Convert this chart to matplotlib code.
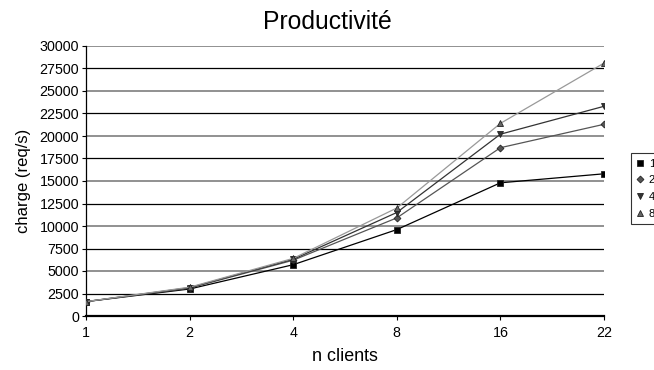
import matplotlib
matplotlib.use("Agg")
import matplotlib.pyplot as plt
import numpy as np

plt.rcParams['font.family'] = ['Liberation Sans', 'DejaVu Sans']

clients = ["1", "2", "4", "8", "16", "22"]
serie_1 = [1600, 3000, 5700, 9600, 14800, 15800]
serie_2 = [1600, 3100, 6200, 10900, 18700, 21300]
serie_4 = [1600, 3150, 6300, 11500, 20200, 23300]
serie_8 = [1600, 3200, 6400, 12000, 21400, 28100]
legend_labels = ["1", "2", "4", "8"]
yticks = list(range(0, 30001, 2500))

fig = plt.figure(figsize=(6.54, 3.70), dpi=100)
ax = fig.add_axes([86/654, 1-316/370, (604-86)/654, (316-46)/370])

x = np.arange(len(clients))

# horizontal grid: grey every 5000, black in between
for v in yticks[1:]:
    if v % 5000 == 0:
        ax.axhline(v, color="#888888", lw=1.3, zorder=1)
    else:
        ax.axhline(v, color="black", lw=0.9, zorder=1)

styles = [
    (serie_1, "s", "black", "black", 5),
    (serie_2, "D", "#555555", "#555555", 3.5),
    (serie_4, "v", "#333333", "#333333", 5),
    (serie_8, "^", "#999999", "#666666", 5),
]
handles = []
for (vals, m, lc, mc, ms), lab in zip(styles, legend_labels):
    h, = ax.plot(x, vals, color=lc, lw=0.9, marker=m, markersize=ms,
                 markerfacecolor=mc, markeredgecolor="#222222",
                 markeredgewidth=0.6, zorder=3, label=lab)
    handles.append(h)

ax.set_xlim(0, len(clients) - 1)
ax.set_ylim(0, 30000)
ax.set_xticks(x)
ax.set_xticklabels(clients)
ax.set_yticks(yticks)
ax.set_yticklabels([str(v) for v in yticks])
ax.tick_params(axis="both", labelsize=10.3, length=3, width=0.8, direction="out",
               colors="black")
ax.tick_params(axis="x", pad=4)
ax.tick_params(axis="y", pad=2)

for s in ["top", "right"]:
    ax.spines[s].set_visible(False)
ax.spines["left"].set_linewidth(0.9)
ax.spines["bottom"].set_linewidth(1.6)

ax.set_xlabel("n clients", fontsize=12.9, labelpad=6)
ax.set_ylabel("charge (req/s)", fontsize=12, labelpad=6)
fig.text(0.5, 1-22/370, "Productivité", ha="center", va="center", fontsize=17.8)

leg = fig.legend(handles=handles, labels=legend_labels, loc="upper left",
                 bbox_to_anchor=(631/654, 1-153/370), frameon=True,
                 fontsize=8, handlelength=0.6, handletextpad=0.5,
                 borderpad=0.5, labelspacing=0.6, fancybox=False,
                 borderaxespad=0)
leg.get_frame().set_edgecolor("black")
leg.get_frame().set_linewidth(0.8)
for h in leg.legend_handles:
    h.set_linestyle("none")

fig.savefig("out.png", dpi=100)
